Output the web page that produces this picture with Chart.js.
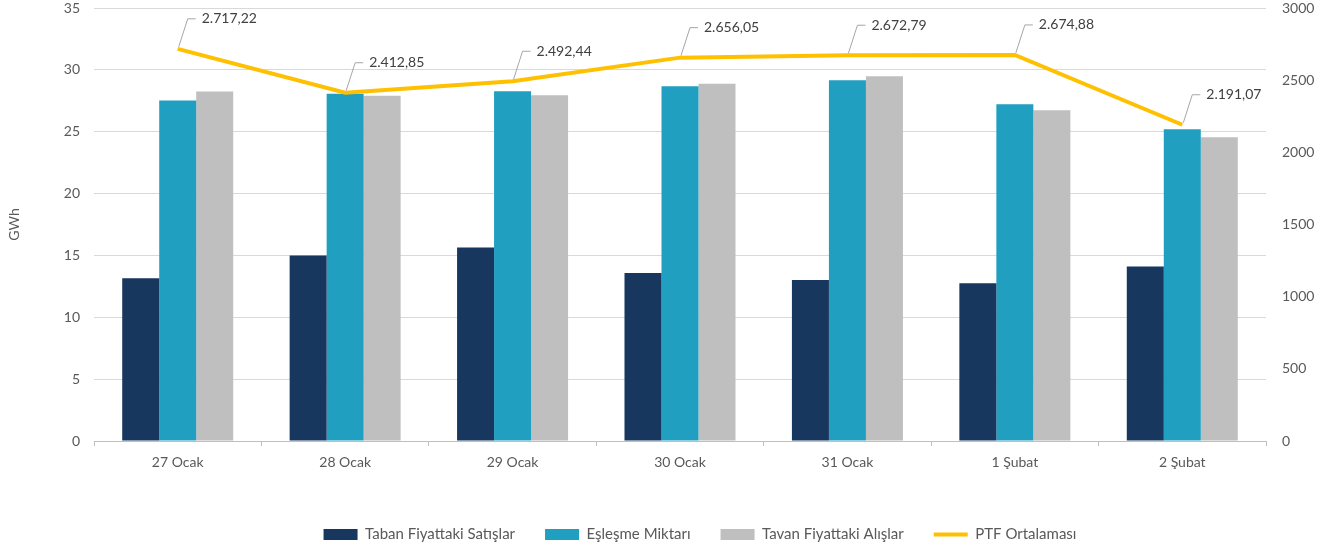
<!DOCTYPE html>
<html>
<head>
<meta charset="utf-8">
<script src="https://cdn.jsdelivr.net/npm/chart.js@4"></script>
<style>
  html, body { margin: 0; padding: 0; background: #ffffff; }
  #wrap { width: 1330px; height: 550px; position: relative; }
</style>
</head>
<body>
<div id="wrap"><canvas id="c" width="1330" height="550"></canvas></div>
<script>
const categories = ['27 Ocak', '28 Ocak', '29 Ocak', '30 Ocak', '31 Ocak', '1 Şubat', '2 Şubat'];
const tabanSatis = [13.15, 14.99, 15.64, 13.58, 13.02, 12.75, 14.10];
const eslesme = [27.52, 28.06, 28.28, 28.68, 29.17, 27.22, 25.20];
const tavanAlis = [28.25, 27.90, 27.95, 28.87, 29.49, 26.74, 24.55];
const ptfOrtalama = [2717.22, 2412.85, 2492.44, 2656.05, 2672.79, 2674.88, 2191.07];
const seriesNames = ['Taban Fiyattaki Satışlar', 'Eşleşme Miktarı', 'Tavan Fiyattaki Alışlar', 'PTF Ortalaması'];
const leftAxisTitle = 'GWh';

const FONT = 'Lato, "Liberation Sans", sans-serif';
const TXT = '#595959';

function formatTR(v) {
  const parts = v.toFixed(2).split('.');
  const intPart = parts[0].replace(/\B(?=(\d{3})+(?!\d))/g, '.');
  return intPart + ',' + parts[1];
}

const lineLabels = {
  id: 'lineLabels',
  afterDatasetsDraw(chart) {
    const meta = chart.getDatasetMeta(3);
    const ds = chart.data.datasets[3];
    const ctx = chart.ctx;
    ctx.save();
    ctx.font = '14px ' + FONT;
    ctx.textBaseline = 'middle';
    ctx.textAlign = 'left';
    meta.data.forEach((pt, i) => {
      const px = pt.x, py = pt.y;
      const ly = py - 30;
      ctx.strokeStyle = '#a6a6a6';
      ctx.lineWidth = 1;
      ctx.beginPath();
      ctx.moveTo(px + 1, py - 2);
      ctx.lineTo(px + 10, ly);
      ctx.lineTo(px + 18, ly);
      ctx.stroke();
      ctx.fillStyle = '#404040';
      ctx.fillText(formatTR(ds.data[i]), px + 24, ly);
    });
    ctx.restore();
  }
};

const legendShift = {
  id: 'legendShift',
  afterLayout(chart) {
    if (chart.legend) { chart.legend.left += 35; chart.legend.right += 35; }
  }
};

function noPad(s) { s.paddingTop = 0; s.paddingBottom = 0; }

const chart = new Chart(document.getElementById('c'), {
  type: 'bar',
  data: {
    labels: categories,
    datasets: [
      { label: seriesNames[0], data: tabanSatis, backgroundColor: '#17375E', yAxisID: 'y', order: 1,
        categoryPercentage: 0.663, barPercentage: 1.0 },
      { label: seriesNames[1], data: eslesme, backgroundColor: '#209FC0', yAxisID: 'y', order: 1,
        categoryPercentage: 0.663, barPercentage: 1.0 },
      { label: seriesNames[2], data: tavanAlis, backgroundColor: '#BFBFBF', yAxisID: 'y', order: 1,
        categoryPercentage: 0.663, barPercentage: 1.0 },
      { type: 'line', label: seriesNames[3], data: ptfOrtalama, borderColor: '#FFC000', backgroundColor: '#FFC000',
        borderWidth: 4, pointRadius: 0, tension: 0, yAxisID: 'y1', order: 0 }
    ]
  },
  options: {
    responsive: false,
    animation: false,
    devicePixelRatio: 1,
    layout: { padding: { top: 8, left: 0, right: 0, bottom: -2 } },
    plugins: {
      tooltip: { enabled: false },
      legend: {
        position: 'bottom',
        labels: {
          font: { family: FONT, size: 15 },
          color: TXT,
          usePointStyle: true,
          pointStyleWidth: 34,
          boxHeight: 11,
          padding: 30,
          generateLabels(chart) {
            return chart.data.datasets.map((d, i) => ({
              text: d.label,
              fillStyle: d.backgroundColor,
              strokeStyle: d.type === 'line' ? d.borderColor : d.backgroundColor,
              lineWidth: d.type === 'line' ? 4 : 0,
              pointStyle: d.type === 'line' ? 'line' : 'rect',
              hidden: false,
              datasetIndex: i,
              fontColor: TXT
            }));
          }
        }
      }
    },
    scales: {
      x: {
        afterFit(s) { s.height = 56; s.paddingLeft = 0; s.paddingRight = 0; },
        grid: { offset: true, drawOnChartArea: false, drawTicks: true, tickLength: 5, color: '#BFBFBF' },
        border: { display: true, color: '#BFBFBF' },
        ticks: { color: TXT, font: { family: FONT, size: 14 }, padding: 8 }
      },
      y: {
        position: 'left',
        min: 0, max: 35,
        afterFit(s) { s.width = 94; noPad(s); },
        ticks: { stepSize: 5, color: TXT, font: { family: FONT, size: 14 }, padding: 14 },
        grid: { color: '#D9D9D9', drawTicks: false },
        border: { display: false },
        title: { display: true, text: leftAxisTitle, color: TXT, font: { family: FONT, size: 14 }, padding: { top: 6, bottom: 0 } }
      },
      y1: {
        position: 'right',
        min: 0, max: 3000,
        afterFit(s) { s.width = 64; noPad(s); },
        ticks: { stepSize: 500, color: TXT, font: { family: FONT, size: 14 }, padding: 16,
                 callback: (v) => String(v) },
        grid: { drawOnChartArea: false, drawTicks: false },
        border: { display: false }
      }
    }
  },
  plugins: [lineLabels, legendShift]
});
</script>
</body>
</html>
